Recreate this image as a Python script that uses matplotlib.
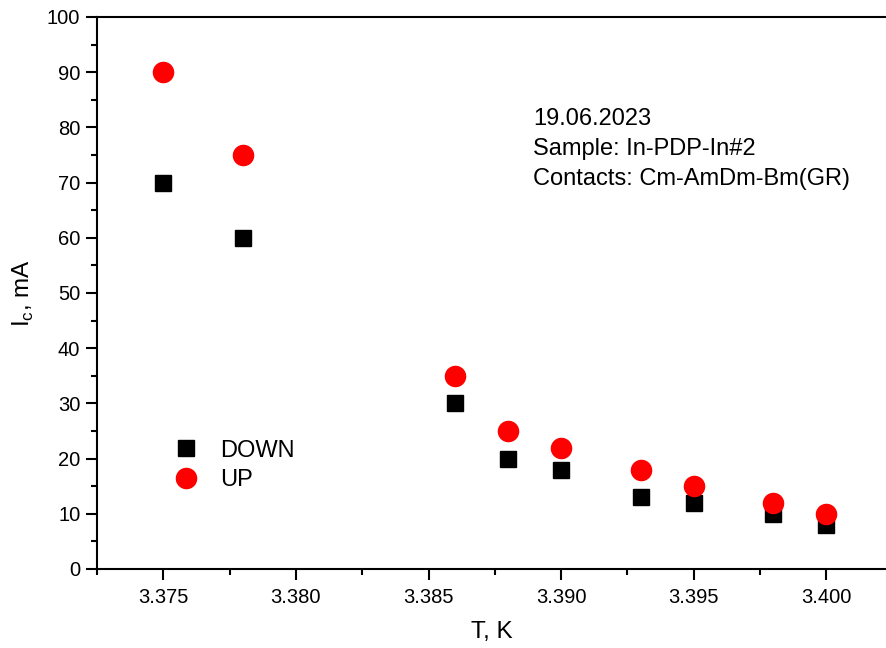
import matplotlib
matplotlib.use('Agg')
import matplotlib.pyplot as plt
from matplotlib.ticker import MultipleLocator

plt.rcParams['font.family'] = ['Liberation Sans', 'DejaVu Sans']

T = [3.375, 3.378, 3.386, 3.388, 3.390, 3.393, 3.395, 3.398, 3.400]
IC_DOWN = [70, 60, 30, 20, 18, 13, 12, 10, 8]
IC_UP = [90, 75, 35, 25, 22, 18, 15, 12, 10]

fig = plt.figure(figsize=(8.86, 6.48), dpi=100)
ax = fig.add_axes([97 / 886, 79 / 648, 789 / 886, 552 / 648])

ax.plot(T, IC_DOWN, 's', color='black', markersize=12, label='DOWN', linestyle='none')
ax.plot(T, IC_UP, 'o', color='red', markersize=14.5, label='UP', linestyle='none')

ax.set_xlim(3.3725, 3.37250 + 789 / 26520)
ax.set_ylim(0, 100)

ax.xaxis.set_major_locator(MultipleLocator(0.005))
ax.xaxis.set_minor_locator(MultipleLocator(0.0025))
ax.yaxis.set_major_locator(MultipleLocator(10))
ax.yaxis.set_minor_locator(MultipleLocator(5))
ax.xaxis.set_major_formatter(matplotlib.ticker.FormatStrFormatter('%.3f'))

ax.spines['right'].set_visible(False)
for s in ['left', 'bottom', 'top']:
    ax.spines[s].set_linewidth(1.5)
ax.tick_params(which='major', direction='out', length=8, width=1.5, labelsize=14.5, pad=4)
ax.tick_params(axis='x', which='major', pad=6)
ax.tick_params(which='minor', direction='out', length=4, width=1.5)
ax.tick_params(top=False, right=False)

ax.set_xlabel('T, K', fontsize=17.5, labelpad=10)
ax.set_ylabel('I$_\\mathregular{c}$, mA', fontsize=17.5, labelpad=8)

ax.legend(loc='center left', bbox_to_anchor=(0.090, 0.188), frameon=False, fontsize=17,
          handlelength=1.5, handletextpad=0.72, labelspacing=0.3, borderpad=0,
          borderaxespad=0)

ax.text(533, 648 - 149, '19.06.2023\nSample: In-PDP-In#2\nContacts: Cm-AmDm-Bm(GR)',
        transform=None, fontsize=17, va='center', ha='left', linespacing=1.45)

fig.savefig('out.png', dpi=100)
